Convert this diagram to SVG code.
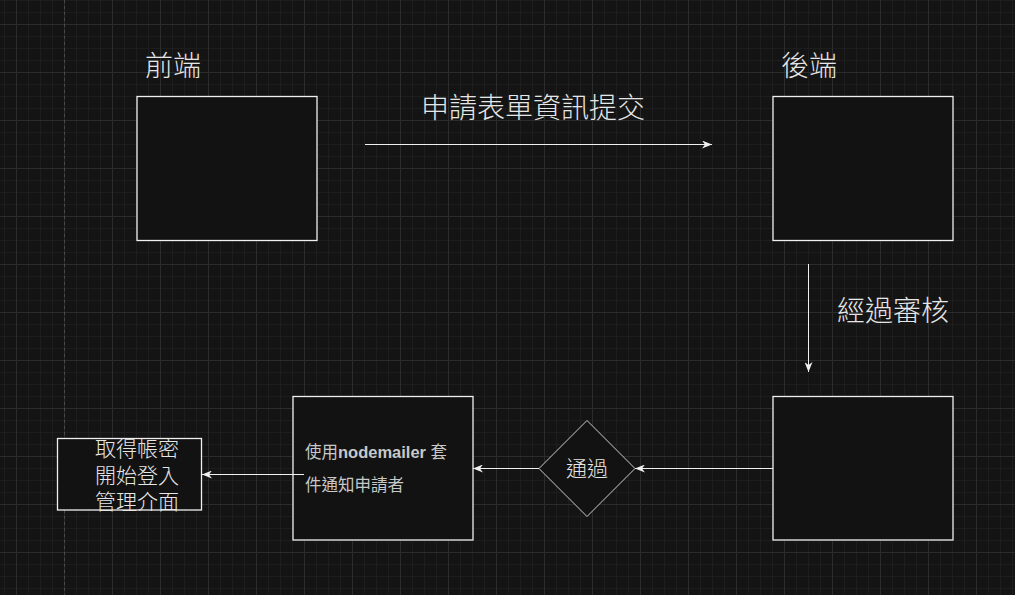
<svg xmlns="http://www.w3.org/2000/svg" width="1015" height="595" viewBox="0 0 1015 595">
  <defs>
    <pattern id="grid" x="16" y="24" width="48" height="48" patternUnits="userSpaceOnUse">
      <rect x="0" y="0" width="48" height="48" fill="#141414"/>
      <rect x="12" y="0" width="1" height="48" fill="#1d1d1d"/>
      <rect x="24" y="0" width="1" height="48" fill="#1d1d1d"/>
      <rect x="36" y="0" width="1" height="48" fill="#1d1d1d"/>
      <rect x="0" y="12" width="48" height="1" fill="#1d1d1d"/>
      <rect x="0" y="24" width="48" height="1" fill="#1d1d1d"/>
      <rect x="0" y="36" width="48" height="1" fill="#1d1d1d"/>
      <rect x="0" y="0" width="1" height="48" fill="#2c2c2c"/>
      <rect x="0" y="0" width="48" height="1" fill="#2c2c2c"/>
    </pattern>
    <marker id="arrow" viewBox="0 0 10 8" refX="10" refY="4" markerWidth="10" markerHeight="8" markerUnits="userSpaceOnUse" orient="auto">
      <path d="M0,0 L10,4 L0,8 L3,4 Z" fill="#f0f0f0"/>
    </marker>
  </defs>
  <style>
    .box { fill: #121212; stroke: #f0f0f0; stroke-width: 1.3; }
    .diamond { fill: #121212; stroke: #cfcfcf; stroke-width: 1; }
    .edge { fill: none; stroke: #f0f0f0; stroke-width: 1; marker-end: url(#arrow); }
    .lbl { font-family: "Noto Sans CJK TC", "Noto Sans CJK SC", sans-serif; font-weight: 300; fill: #e6e6e6; }
    .big { font-size: 28px; text-anchor: middle; }
    .mid { font-size: 21px; text-anchor: middle; }
    .small { font-family: "Liberation Sans", "Noto Sans CJK TC", sans-serif; font-size: 16.5px; fill: #c8c8c8; }
  </style>

  <rect x="0" y="0" width="1015" height="595" fill="url(#grid)"/>
  <line x1="64.5" y1="0" x2="64.5" y2="595" stroke="#4a4a4a" stroke-width="1" stroke-dasharray="3 3"/>

  <g id="label-frontend"><text class="lbl big" x="173" y="76">前端</text></g>
  <g id="label-backend"><text class="lbl big" x="809" y="76">後端</text></g>
  <g id="label-submit"><text class="lbl big" x="533" y="118">申請表單資訊提交</text></g>
  <g id="label-review"><text class="lbl big" x="893" y="321">經過審核</text></g>

  <g id="frontend"><rect class="box" x="137" y="96.5" width="180" height="144"/></g>
  <g id="backend"><rect class="box" x="773" y="96.5" width="180" height="144"/></g>
  <g id="reviewed"><rect class="box" x="773" y="396.5" width="180" height="143.5"/></g>
  <g id="notify">
    <rect class="box" x="293" y="396.5" width="180" height="143.5"/>
    <text class="small"><tspan x="305" y="457.5">使用<tspan font-weight="bold">nodemailer</tspan> 套</tspan><tspan x="305" y="491">件通知申請者</tspan></text>
  </g>
  <g id="pass">
    <polygon class="diamond" points="587,420.5 635,468.5 587,516.5 539,468.5"/>
    <text class="lbl mid" x="587" y="475.5">通過</text>
  </g>
  <g id="login">
    <rect class="box" x="57.5" y="438.5" width="144" height="71.5"/>
    <text class="lbl mid"><tspan x="137" y="456">取得帳密</tspan><tspan x="137" y="482.5">開始登入</tspan><tspan x="137" y="508.5">管理介面</tspan></text>
  </g>

  <g id="connectors">
    <line class="edge" x1="365" y1="144.5" x2="712" y2="144.5"/>
    <line class="edge" x1="808.5" y1="264" x2="808.5" y2="372"/>
    <line class="edge" x1="773" y1="468.5" x2="635" y2="468.5"/>
    <line class="edge" x1="539" y1="468.5" x2="473" y2="468.5"/>
    <line class="edge" x1="304" y1="474.5" x2="202" y2="474.5"/>
  </g>
</svg>
